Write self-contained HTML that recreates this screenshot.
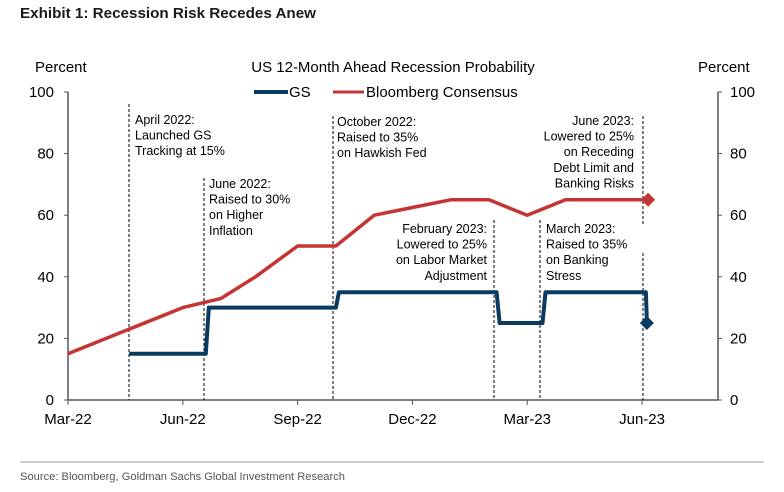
<!DOCTYPE html>
<html><head><meta charset="utf-8"><style>
body{margin:0;background:#fff;}
svg{display:block;font-family:"Liberation Sans",Arial,sans-serif;}
</style></head><body>
<svg width="784" height="492" viewBox="0 0 784 492">
<text x="20" y="18" font-size="15" font-weight="bold" fill="#1a1a1a" textLength="296" lengthAdjust="spacingAndGlyphs">Exhibit 1: Recession Risk Recedes Anew</text>
<text x="35" y="72" font-size="15" fill="#000">Percent</text>
<text x="698" y="72" font-size="15" fill="#000">Percent</text>
<text x="393" y="72" font-size="15" text-anchor="middle" fill="#000">US 12-Month Ahead Recession Probability</text>
<g>
<line x1="254" y1="92" x2="288" y2="92" stroke="#0b3a61" stroke-width="4"/>
<text x="289" y="97" font-size="15">GS</text>
<line x1="333" y1="92" x2="364" y2="92" stroke="#c53434" stroke-width="3"/>
<text x="366" y="97" font-size="15">Bloomberg Consensus</text>
</g>
<g id="axes"></g>
<g id="annot" font-size="12.5" fill="#000"></g>
<g id="series"></g>
<line x1="20" y1="462" x2="764" y2="462" stroke="#999" stroke-width="1"/>
<text x="20" y="480" font-size="11" fill="#555" textLength="325" lengthAdjust="spacingAndGlyphs">Source: Bloomberg, Goldman Sachs Global Investment Research</text>
</svg>
<script>
const xTickLabels=["Mar-22","Jun-22","Sep-22","Dec-22","Mar-23","Jun-23"];
const xTickMonths=[0,3,6,9,12,15];
const yTicks=[0,20,40,60,80,100];
const bbgMonths=[0,3,4,4.9,6,7,8,9,10,11,12,13,15];
const bbgValues=[15,30,33,40,50,50,60,62.5,65,65,60,65,65];
const gsDates=[1.6,3.6,7.0,11.2,12.4,15.1];
const gsValues=[15,30,35,25,35,25];
const NS="http://www.w3.org/2000/svg";
const X0=68,XR=718,MPX=38.27,Y0=400,YTOP=92;
const xs=m=>X0+m*MPX;
const ys=v=>Y0-v*(Y0-YTOP)/100;
function mk(parent,tag,attrs,text){const e=document.createElementNS(NS,tag);for(const k in attrs)e.setAttribute(k,attrs[k]);if(text!=null)e.textContent=text;document.getElementById(parent).appendChild(e);return e;}
// axes
let e=mk('axes','line',{x1:X0,y1:YTOP,x2:X0,y2:Y0,stroke:'#555','stroke-width':1.5});


e=mk('axes','line',{x1:XR,y1:YTOP,x2:XR,y2:Y0,stroke:'#555','stroke-width':1.5});


e=mk('axes','line',{x1:X0,y1:Y0,x2:XR,y2:Y0,stroke:'#555','stroke-width':1.5});


yTicks.forEach(v=>{
 mk('axes','line',{x1:X0-4,y1:ys(v),x2:X0,y2:ys(v),stroke:'#555'});
 mk('axes','line',{x1:XR,y1:ys(v),x2:XR+4,y2:ys(v),stroke:'#555'});
 let t=mk('axes','text',{x:X0-14,y:ys(v)+5,'font-size':15,'text-anchor':'end'},v);
 
 
 t=mk('axes','text',{x:XR+12,y:ys(v)+5,'font-size':15},v);
 
 
});
xTickMonths.forEach((m,i)=>{
 mk('axes','line',{x1:xs(m),y1:Y0,x2:xs(m),y2:Y0+5,stroke:'#555'});
 const t=mk('axes','text',{x:xs(m),y:Y0+24,'font-size':15,'text-anchor':'middle'},xTickLabels[i]);
 
 
});
// annotations
const annots=[
 {x:129,y1:104,lx:135,ly:124,anchor:'start',lines:["April 2022:","Launched GS","Tracking at 15%"]},
 {x:204,y1:178,lx:209,ly:188,anchor:'start',lines:["June 2022:","Raised to 30%","on Higher","Inflation"]},
 {x:333,y1:116,lx:337,ly:126,anchor:'start',lines:["October 2022:","Raised to 35%","on Hawkish Fed"]},
 {x:494,y1:220,lx:487,ly:233,anchor:'end',lines:["February 2023:","Lowered to 25%","on Labor Market","Adjustment"]},
 {x:540,y1:220,lx:546,ly:233,anchor:'start',lines:["March 2023:","Raised to 35%","on Banking","Stress"]},
 {x:643,y1:116,lx:634,ly:125,anchor:'end',lines:["June 2023:","Lowered to 25%","on Receding","Debt Limit and","Banking Risks"]}
];
annots.forEach(a=>{
 if(a.x===643){
  mk('annot','line',{x1:a.x,y1:a.y1,x2:a.x,y2:226,stroke:'#000','stroke-dasharray':'3,2','stroke-width':1});
  mk('annot','line',{x1:a.x,y1:253,x2:a.x,y2:Y0,stroke:'#000','stroke-dasharray':'3,2','stroke-width':1});
 } else mk('annot','line',{x1:a.x,y1:a.y1,x2:a.x,y2:Y0,stroke:'#000','stroke-dasharray':'3,2','stroke-width':1});
 const t=mk('annot','text',{x:a.lx,y:a.ly,'text-anchor':a.anchor});
 
 
 a.lines.forEach((l,i)=>{const s=document.createElementNS(NS,'tspan');s.setAttribute('x',a.lx);s.setAttribute('y',a.ly+i*15.6);s.textContent=l;t.appendChild(s);});
});
// bloomberg line
let d=bbgMonths.map((m,i)=>(i?'L':'M')+xs(m).toFixed(1)+','+ys(bbgValues[i]).toFixed(1)).join(' ');
let p=mk('series','path',{d:d,fill:'none',stroke:'#c53434','stroke-width':3.5,'stroke-linejoin':'round'});


let lm=bbgMonths[bbgMonths.length-1],lv=bbgValues[bbgValues.length-1];
let cx=xs(lm)+6,cy=ys(lv);
p=mk('series','path',{d:`M${cx-7},${cy} L${cx},${cy-7} L${cx+7},${cy} L${cx},${cy+7}Z`,fill:'#c53434'});


// GS step line
let pts=[[xs(gsDates[0]),ys(gsValues[0])]];
for(let i=1;i<gsDates.length;i++){pts.push([xs(gsDates[i]),ys(gsValues[i-1])]);pts.push([xs(gsDates[i])+3,ys(gsValues[i])]);}
pts.pop();
const lastX=xs(gsDates[gsDates.length-1]),lastY=ys(gsValues[gsValues.length-1]);
pts.push([lastX+1,lastY]);
d=pts.map((q,i)=>(i?'L':'M')+q[0].toFixed(1)+','+q[1].toFixed(1)).join(' ');
p=mk('series','path',{d:d,fill:'none',stroke:'#0b3a61','stroke-width':4,'stroke-linejoin':'round'});


cx=lastX+1;cy=lastY;
p=mk('series','path',{d:`M${cx-7},${cy} L${cx},${cy-7} L${cx+7},${cy} L${cx},${cy+7}Z`,fill:'#0b3a61'});


</script>
</body></html>
